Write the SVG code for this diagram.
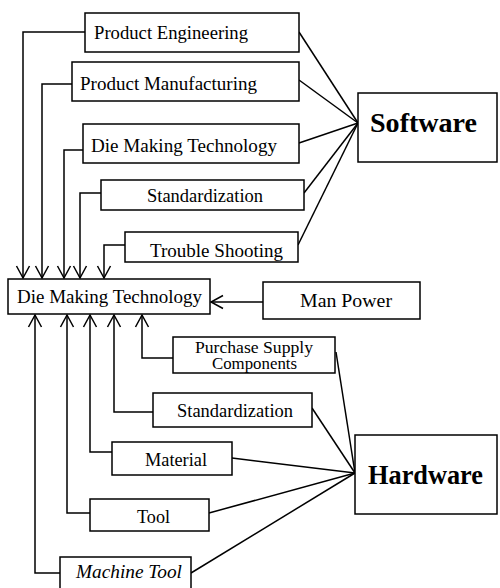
<svg xmlns="http://www.w3.org/2000/svg" width="500" height="588" viewBox="0 0 500 588">
  <style>
    .box { fill: #fff; stroke: #000; stroke-width: 1.5; }
    .lbl { font-family: "Liberation Serif", "Times New Roman", serif; font-size: 18.5px; fill: #000; }
    .sm { font-size: 16px; }
    .big { font-family: "Liberation Serif", "Times New Roman", serif; font-size: 28px; font-weight: bold; fill: #000; }
    .it { font-style: italic; }
    .con { fill: none; stroke: #000; stroke-width: 1.5; }
  </style>
  <defs>
    <marker id="arrow" markerUnits="userSpaceOnUse" viewBox="-14 -8 16 16" refX="0" refY="0" markerWidth="16" markerHeight="16" orient="auto">
      <path d="M-12,-6.5 L0,0 L-12,6.5" fill="none" stroke="#000" stroke-width="1.5"/>
    </marker>
  </defs>
  <rect width="500" height="588" fill="#fff"/>

  <g id="connectors">
    <!-- software factors feeding down into the central box -->
    <polyline class="con" points="85,32 23,32 23,278" marker-end="url(#arrow)"/>
    <polyline class="con" points="72,84 42,84 42,278" marker-end="url(#arrow)"/>
    <polyline class="con" points="83,150 64,150 64,278" marker-end="url(#arrow)"/>
    <polyline class="con" points="101,193 80,193 80,278" marker-end="url(#arrow)"/>
    <polyline class="con" points="125,245 104,245 104,278" marker-end="url(#arrow)"/>
    <!-- hardware factors feeding up into the central box -->
    <polyline class="con" points="173,358 142,358 142,315" marker-end="url(#arrow)"/>
    <polyline class="con" points="153,412 114,412 114,315" marker-end="url(#arrow)"/>
    <polyline class="con" points="112,452 90,452 90,315" marker-end="url(#arrow)"/>
    <polyline class="con" points="90,513 67,513 67,315" marker-end="url(#arrow)"/>
    <polyline class="con" points="60,573 35,573 35,315" marker-end="url(#arrow)"/>
    <!-- man power -->
    <line class="con" x1="263" y1="302" x2="211" y2="302" marker-end="url(#arrow)"/>
    <!-- fan into Software -->
    <line class="con" x1="299" y1="32" x2="358" y2="123"/>
    <line class="con" x1="299" y1="80" x2="358" y2="123"/>
    <line class="con" x1="299" y1="143" x2="358" y2="123"/>
    <line class="con" x1="304" y1="193" x2="358" y2="123"/>
    <line class="con" x1="298" y1="245" x2="358" y2="123"/>
    <!-- fan into Hardware -->
    <line class="con" x1="336" y1="352" x2="355" y2="473"/>
    <line class="con" x1="312" y1="408" x2="355" y2="473"/>
    <line class="con" x1="232" y1="458" x2="355" y2="473"/>
    <line class="con" x1="209" y1="513" x2="355" y2="473"/>
    <line class="con" x1="191" y1="573" x2="355" y2="473"/>
  </g>

  <g id="product-engineering">
    <rect class="box" x="85" y="13" width="214" height="39"/>
    <text class="lbl" x="94" y="39" textLength="154" lengthAdjust="spacingAndGlyphs">Product Engineering</text>
  </g>
  <g id="product-manufacturing">
    <rect class="box" x="72" y="62" width="227" height="39"/>
    <text class="lbl" x="80" y="90" textLength="177" lengthAdjust="spacingAndGlyphs">Product Manufacturing</text>
  </g>
  <g id="die-making-tech-sw">
    <rect class="box" x="83" y="124" width="216" height="39"/>
    <text class="lbl" x="91" y="152" textLength="186" lengthAdjust="spacingAndGlyphs">Die Making Technology</text>
  </g>
  <g id="standardization-sw">
    <rect class="box" x="101" y="180" width="203" height="30"/>
    <text class="lbl" x="147" y="202" textLength="116" lengthAdjust="spacingAndGlyphs">Standardization</text>
  </g>
  <g id="trouble-shooting">
    <rect class="box" x="125" y="232" width="173" height="30"/>
    <text class="lbl" x="150" y="257" textLength="133" lengthAdjust="spacingAndGlyphs">Trouble Shooting</text>
  </g>

  <g id="software">
    <rect class="box" x="358" y="93" width="139" height="69"/>
    <text class="big" x="370" y="132" textLength="107" lengthAdjust="spacingAndGlyphs">Software</text>
  </g>

  <g id="die-making-technology">
    <rect class="box" x="8" y="279" width="202" height="35"/>
    <text class="lbl" x="17" y="303" textLength="185" lengthAdjust="spacingAndGlyphs">Die Making Technology</text>
  </g>
  <g id="man-power">
    <rect class="box" x="263" y="282" width="157" height="37"/>
    <text class="lbl" x="300" y="307" textLength="92" lengthAdjust="spacingAndGlyphs">Man Power</text>
  </g>

  <g id="purchase-supply">
    <rect class="box" x="173" y="337" width="162" height="36"/>
    <text class="lbl sm" x="195" y="353" textLength="118" lengthAdjust="spacingAndGlyphs">Purchase Supply</text>
    <text class="lbl sm" x="212" y="369" textLength="85" lengthAdjust="spacingAndGlyphs">Components</text>
  </g>
  <g id="standardization-hw">
    <rect class="box" x="153" y="393" width="159" height="34"/>
    <text class="lbl" x="177" y="417" textLength="116" lengthAdjust="spacingAndGlyphs">Standardization</text>
  </g>
  <g id="material">
    <rect class="box" x="112" y="442" width="120" height="33"/>
    <text class="lbl" x="145" y="466" textLength="62" lengthAdjust="spacingAndGlyphs">Material</text>
  </g>
  <g id="tool">
    <rect class="box" x="90" y="499" width="119" height="32"/>
    <text class="lbl" x="137" y="523" textLength="33" lengthAdjust="spacingAndGlyphs">Tool</text>
  </g>
  <g id="machine-tool">
    <rect class="box" x="60" y="557" width="131" height="40"/>
    <text class="lbl it" x="76" y="578" textLength="106" lengthAdjust="spacingAndGlyphs">Machine Tool</text>
  </g>

  <g id="hardware">
    <rect class="box" x="355" y="435" width="142" height="79"/>
    <text class="big" x="368" y="484" textLength="115" lengthAdjust="spacingAndGlyphs">Hardware</text>
  </g>
</svg>
